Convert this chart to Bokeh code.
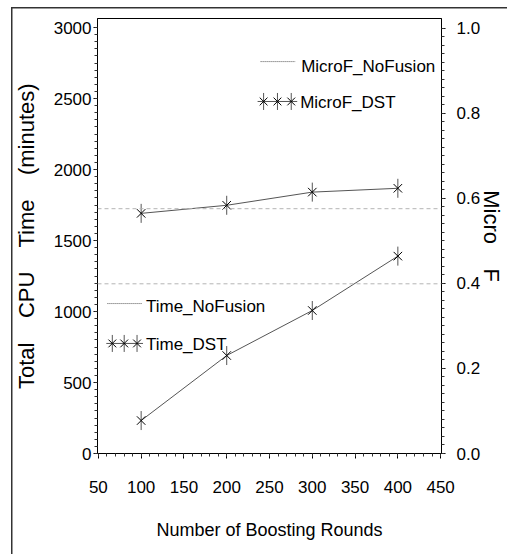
from bokeh.plotting import figure
from bokeh.models import Range1d, LinearAxis, FixedTicker, NumeralTickFormatter, Span
from bokeh.core.properties import value
from bokeh.embed import file_html
from bokeh.resources import INLINE
import numpy as np

# --- data -------------------------------------------------------------
ROUNDS = [100, 200, 300, 400]
TIME_DST = [232, 690, 1007, 1390]          # minutes
TIME_NOFUSION = 1195                        # minutes, constant baseline
MICROF_DST = [0.565, 0.584, 0.615, 0.624]   # micro F
MICROF_NOFUSION = 0.576                     # micro F, constant baseline

X_TICKS = [50, 100, 150, 200, 250, 300, 350, 400, 450]
TIME_TICKS = [0, 500, 1000, 1500, 2000, 2500, 3000]
F_TICKS = [0.0, 0.2, 0.4, 0.6, 0.8, 1.0]

# legend layout (in x / left-axis units)
LEG_F_LINE_X = [239.6, 280.0]
LEG_F_LINE_Y = 2760
LEG_F_TEXT_XY = (287.0, 2725)
LEG_F_STAR_X = [243.1, 259.3, 275.4]
LEG_F_STAR_Y = 2479
LEG_F_DST_TEXT_XY = (285.8, 2472)

LEG_T_LINE_X = [60.6, 101.0]
LEG_T_LINE_Y = 1056
LEG_T_TEXT_XY = (105.6, 1035)
LEG_T_STAR_X = [66.3, 80.2, 95.2]
LEG_T_STAR_Y = 775
LEG_T_DST_TEXT_XY = (105.6, 768)

FONT = "Liberation Sans"
LINE_GRAY = "#555555"
REF_GRAY = "#b4b4b4"
NB = "\u00a0"

p = figure(width=507, height=554, output_backend="svg", toolbar_location=None,
           x_range=Range1d(49, 451), y_range=Range1d(0, 3063.4),
           min_border_left=97, min_border_right=62,
           min_border_top=18, min_border_bottom=101)
p.extra_y_ranges = {"f": Range1d(0, 1.0235)}
p.xgrid.visible = False
p.ygrid.visible = False
p.outline_line_color = "black"
p.outline_line_width = 1
p.background_fill_color = "white"
p.border_fill_alpha = 0
# page frame: top and left rules drawn behind the transparent border area
p.styles = {
    "background-color": "white",
    "background-image": "linear-gradient(#333,#333), linear-gradient(#333,#333)",
    "background-size": "100% 1.5px, 1.5px 100%",
    "background-position": "11px 7px, 11px 7px",
    "background-repeat": "no-repeat",
}


def style_axis(ax, tick_out, standoff):
    ax.axis_line_color = "black"
    ax.axis_line_width = 1
    ax.major_tick_line_color = "black"
    ax.minor_tick_line_color = "#333333"
    ax.major_tick_in = 0
    ax.major_tick_out = tick_out
    ax.minor_tick_in = 0
    ax.minor_tick_out = 3
    ax.major_label_text_font = FONT
    ax.major_label_text_font_size = "17px"
    ax.major_label_text_color = "black"
    ax.major_label_standoff = standoff
    ax.axis_label_text_font = FONT
    ax.axis_label_text_font_style = "normal"
    ax.axis_label_text_color = "black"


# bottom axis
xax = p.xaxis[0]
xax.ticker = FixedTicker(ticks=X_TICKS,
                         minor_ticks=list(np.arange(X_TICKS[0], X_TICKS[-1] + 1, 10)))
style_axis(xax, 5, 22)
xax.axis_label = "Number of Boosting Rounds"
xax.axis_label_text_font_size = "18px"
xax.axis_label_standoff = 24

# left axis
yax = p.yaxis[0]
yax.ticker = FixedTicker(ticks=TIME_TICKS,
                         minor_ticks=list(np.arange(TIME_TICKS[0], TIME_TICKS[-1] + 1, 50)))
style_axis(yax, 4, 2)
gap = NB * 3 + " "
yax.axis_label = gap.join(["Total", "CPU", "Time", "(minutes)"])
yax.axis_label_text_font_size = "22px"
yax.axis_label_standoff = 12

# right axis
rax = LinearAxis(y_range_name="f",
                 ticker=FixedTicker(ticks=F_TICKS,
                                    minor_ticks=[round(v, 2) for v in np.arange(0, 1.001, 0.02)]),
                 formatter=NumeralTickFormatter(format="0.0"))
style_axis(rax, 4, 11)
rax.axis_label = "Micro" + NB * 4 + "F"
rax.axis_label_text_font_size = "22px"
rax.axis_label_standoff = -4
p.add_layout(rax, "right")

# reference (no fusion) levels
p.add_layout(Span(location=TIME_NOFUSION, dimension="width",
                  line_color=REF_GRAY, line_dash="4 3", line_width=1))
p.add_layout(Span(location=MICROF_NOFUSION, dimension="width", y_range_name="f",
                  line_color=REF_GRAY, line_dash="4 3", line_width=1))


def star(xs, ys, y_range_name="default", size=12, stem=19):
    p.scatter(xs, ys, marker="dash", angle=np.pi / 2, size=stem,
              line_color=LINE_GRAY, line_width=1, y_range_name=y_range_name)
    p.scatter(xs, ys, marker="x", size=size, line_color="black",
              line_width=1, y_range_name=y_range_name)


# DST series
p.line(ROUNDS, TIME_DST, line_color=LINE_GRAY, line_width=1)
star(ROUNDS, TIME_DST)
p.line(ROUNDS, MICROF_DST, line_color=LINE_GRAY, line_width=1, y_range_name="f")
star(ROUNDS, MICROF_DST, y_range_name="f")

# legends
for lx, ly in [(LEG_F_LINE_X, LEG_F_LINE_Y), (LEG_T_LINE_X, LEG_T_LINE_Y)]:
    p.line(lx, [ly, ly], line_color=LINE_GRAY, line_dash="1 1", line_width=1)
for sx, sy in [(LEG_F_STAR_X, LEG_F_STAR_Y), (LEG_T_STAR_X, LEG_T_STAR_Y)]:
    p.line([sx[0] - 7, sx[-1] + 7], [sy, sy], line_color=LINE_GRAY, line_width=1)
    star(sx, [sy] * len(sx), size=11, stem=17)

labels = [(LEG_F_TEXT_XY, "MicroF_NoFusion"), (LEG_F_DST_TEXT_XY, "MicroF_DST"),
          (LEG_T_TEXT_XY, "Time_NoFusion"), (LEG_T_DST_TEXT_XY, "Time_DST")]
p.text(x=[xy[0] for xy, _ in labels], y=[xy[1] for xy, _ in labels],
       text=[t for _, t in labels], text_font=value(FONT), text_font_size="17px",
       text_align="left", text_baseline="middle", text_color="black")

open("out.html", "w").write(file_html(p, INLINE))
